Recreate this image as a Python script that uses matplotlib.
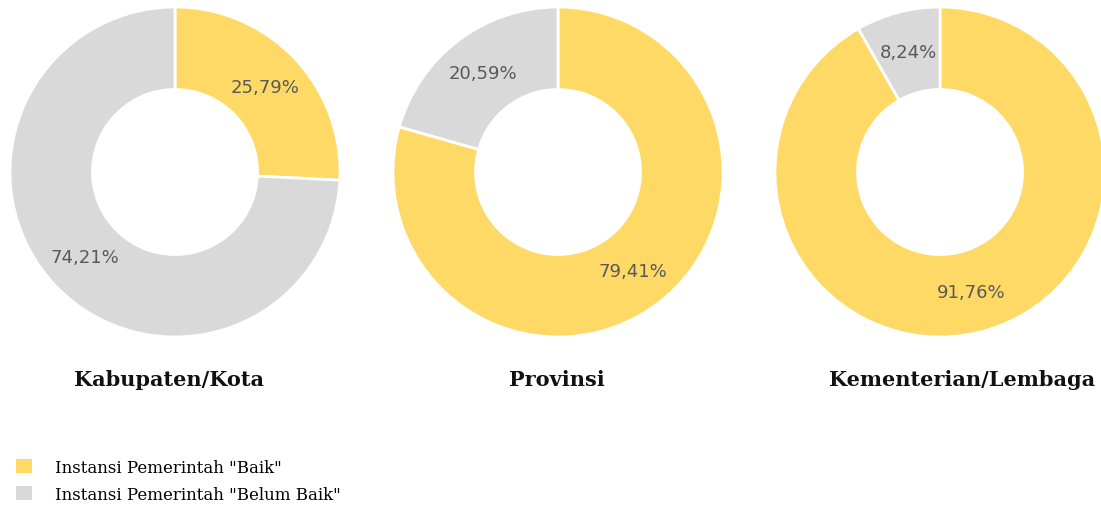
import matplotlib
matplotlib.use('Agg')
import matplotlib.pyplot as plt
from matplotlib.patches import Patch

# data
groups = ['Kabupaten/Kota', 'Provinsi', 'Kementerian/Lembaga']
baik = [25.79, 79.41, 91.76]
belum_baik = [74.21, 20.59, 8.24]
legend_labels = ['Instansi Pemerintah "Baik"', 'Instansi Pemerintah "Belum Baik"']

colors = ['#FFD966', '#D9D9D9']

W, H = 1101, 510
fig = plt.figure(figsize=(W / 100, H / 100), dpi=100)

# left pixel edge of each donut box, box size in px
lefts = [10, 393, 775]
title_x = [169, 557, 962]
size = 330
top = 8


def fmt(p):
    return f'{p:.2f}%'.replace('.', ',')


for i, name in enumerate(groups):
    ax = fig.add_axes([lefts[i] / W, (H - top - size) / H, size / W, size / H])
    wedges, texts, autotexts = ax.pie(
        [baik[i], belum_baik[i]], colors=colors, startangle=90, counterclock=False,
        radius=1, autopct=fmt, pctdistance=0.75,
        wedgeprops=dict(width=0.5, edgecolor='white', linewidth=2),
        textprops=dict(color='#595959', fontsize=13))
    ax.set_xlim(-1, 1)
    ax.set_ylim(-1, 1)
    ax.set_aspect('equal')
    ax.axis('off')
    fig.text(title_x[i] / W, 1 - 380 / H, name, ha='center', va='center',
             fontsize=15, fontweight='bold', family='DejaVu Serif', color='#111111')

handles = [Patch(facecolor=c, edgecolor='none') for c in colors]
fig.legend(handles, legend_labels, loc='upper left', bbox_to_anchor=(16 / W, 1 - 460 / H),
           frameon=False, prop=dict(family='DejaVu Serif', size=12),
           borderaxespad=0, borderpad=0,
           handlelength=0.95, handleheight=0.95, handletextpad=1.4, labelspacing=0.6)

fig.savefig('out.png', dpi=100)
